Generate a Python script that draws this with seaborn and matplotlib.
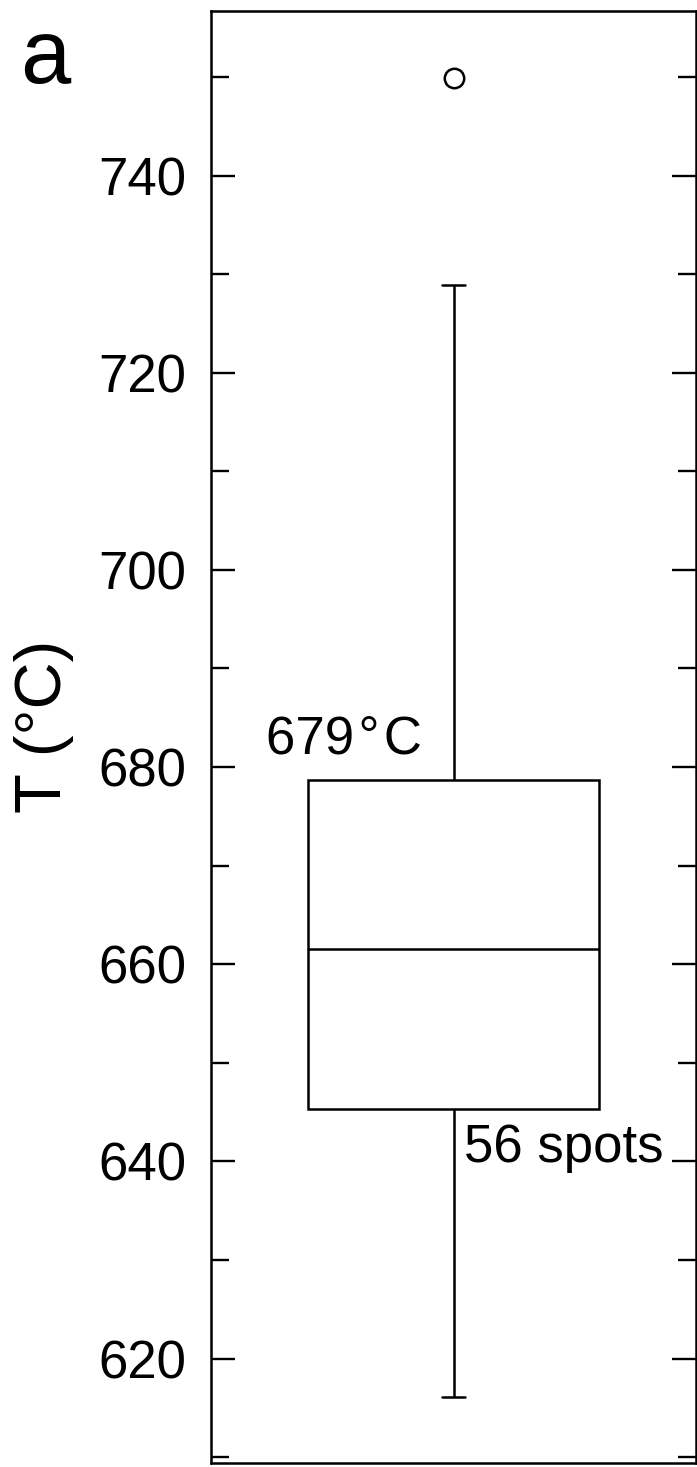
import matplotlib
matplotlib.use("Agg")
import matplotlib.pyplot as plt
import seaborn as sns
import numpy as np
from matplotlib.ticker import MultipleLocator

# box summary (degC)
whisker_low = 616.1
q1 = 645.3
median = 661.5
q3 = 678.7
whisker_high = 728.9
outliers = [749.9]

# 9-point sample whose quartiles (linear interpolation) pin the box exactly
temps = [whisker_low, q1, q1, median, median, q3, q3, whisker_high] + outliers

yticks = [620, 640, 660, 680, 700, 720, 740]
q3_label = "679\u200a°\u200aC"
n_label = "56 spots"

sns.set_style("ticks")
plt.rcParams["font.family"] = ["Liberation Sans", "DejaVu Sans"]
plt.rcParams["text.color"] = "black"
plt.rcParams["ytick.color"] = "black"
plt.rcParams["axes.labelcolor"] = "black"

fig = plt.figure(figsize=(6.97, 14.67), dpi=100)
ax = fig.add_axes([211 / 697, 4 / 1467, 485 / 697, 1452 / 1467])

sns.boxplot(
    y=temps, ax=ax, width=0.6, color="white", linecolor="black",
    linewidth=1.8, capwidths=0.047, whis=1.6,
    flierprops=dict(marker="o", markerfacecolor="white",
                    markeredgecolor="black", markersize=14,
                    markeredgewidth=1.8),
)

ax.set_xlim(-0.5, 0.5)
ax.set_ylim(609.4, 756.7)
ax.set_xticks([])
ax.set_yticks(yticks)
ax.yaxis.set_minor_locator(MultipleLocator(10))
ax.tick_params(axis="y", which="major", direction="in", length=17, width=1.7,
               labelsize=38, pad=18, left=True, right=True)
ax.tick_params(axis="y", which="minor", direction="in", length=13, width=1.7,
               left=True, right=True)
for s in ax.spines.values():
    s.set_visible(True)
    s.set_linewidth(1.8)
    s.set_color("black")

ax.set_ylabel("T (°C)", fontsize=47)
ax.yaxis.set_label_coords(-0.282, 0.507, transform=ax.transAxes)

ax.text(-0.386, 681.4, q3_label, fontsize=38, ha="left", va="baseline")
ax.text(0.022, 639.9, n_label, fontsize=38, ha="left", va="baseline")

fig.text(20 / 697, 1 - 83 / 1467, "a", fontsize=65, ha="left", va="baseline")

fig.savefig("out.png", dpi=100, facecolor="white")
